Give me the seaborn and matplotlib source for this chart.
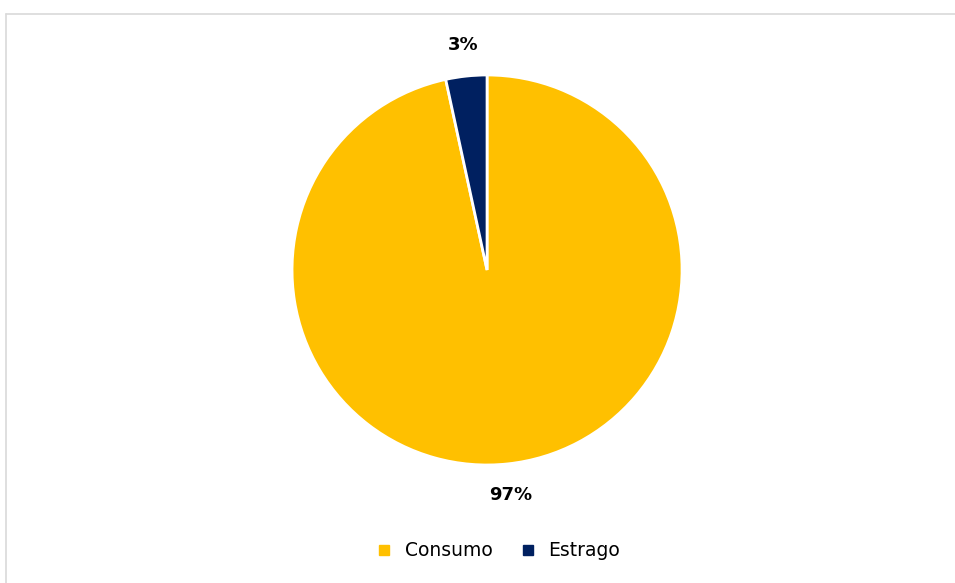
import matplotlib
matplotlib.use('Agg')
import matplotlib.pyplot as plt
import seaborn as sns
from matplotlib.lines import Line2D

# data
categories = ['Consumo', 'Estrago']
values = [96.6, 3.4]
colors = ['#FFC000', '#002060']

sns.set_theme(style='white')
plt.rcParams['font.family'] = ['DejaVu Sans']

fig = plt.figure(figsize=(9.55, 5.83), dpi=100)
ax = fig.add_axes([0.3058, 0.2024, 0.4084, 0.6690])

wedges, texts, autotexts = ax.pie(values, colors=colors, startangle=90, counterclock=False,
                                  autopct='%.0f%%', pctdistance=1.16,
                                  wedgeprops={'edgecolor': 'white', 'linewidth': 2},
                                  textprops={'fontsize': 13, 'fontweight': 'bold', 'color': 'black'})
ax.set_xlim(-1, 1)
ax.set_ylim(-1, 1)
ax.set_aspect('equal')
for w in wedges:
    w.set_clip_on(False)

# legend under the pie
handles = [Line2D([0], [0], marker='s', linestyle='', markersize=7,
                  markerfacecolor=c, markeredgecolor=c) for c in colors]
leg = fig.legend(handles, categories, loc='center', bbox_to_anchor=(0.516, 0.055), ncol=2,
                 frameon=False, fontsize=13.5, handletextpad=0.1, columnspacing=0.9)
for t in leg.get_texts():
    t.set_color('black')

# light frame around the chart area (top and left visible)
fig.add_artist(Line2D([0.0063, 0.0063], [0, 1 - 13.5 / 583], color='#d9d9d9', linewidth=1.2,
                      transform=fig.transFigure))
fig.add_artist(Line2D([0.0063, 1], [1 - 13.5 / 583, 1 - 13.5 / 583], color='#d9d9d9', linewidth=1.2,
                      transform=fig.transFigure))

fig.savefig('out.png', dpi=100, facecolor='white')
